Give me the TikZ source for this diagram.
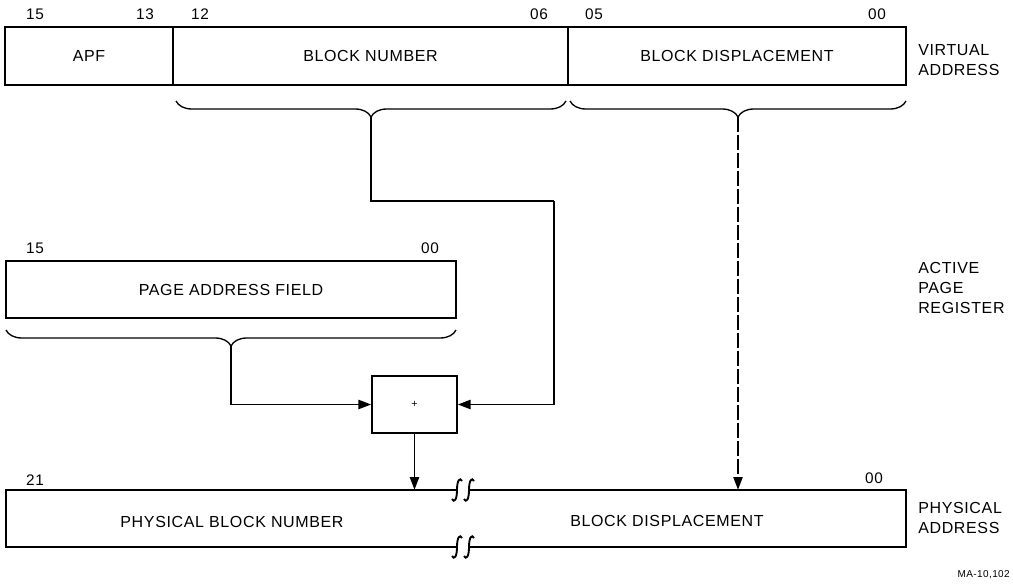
\documentclass[tikz,border=0pt]{standalone}
\usepackage{fontspec}
\setmainfont{Liberation Sans}[LetterSpace=4.0]
\usetikzlibrary{arrows.meta,decorations.pathreplacing}
\newcommand\brkmark[2]{%
  \draw[boxline] ({#1-5},{#2+9}) .. controls ({#1-3},{#2+13}) and ({#1},{#2+10}) .. (#1,#2)
     .. controls ({#1},{#2-10}) and ({#1+3},{#2-13}) .. ({#1+5},{#2-9});}
\begin{document}
\begin{tikzpicture}[x=0.75pt,y=-0.75pt,
  boxline/.style={line width=1.4pt},
  field/.style={draw, boxline, inner sep=0pt, minimum height=43.5pt,
     font=\fontsize{12pt}{14pt}\selectfont},
  txt/.style={inner sep=0pt, font=\fontsize{12pt}{14pt}\selectfont},
  side/.style={inner sep=0pt, anchor=west, align=left,
     font=\fontsize{12pt}{15pt}\selectfont},
  bitno/.style={inner sep=0pt, font=\fontsize{11.5pt}{13pt}\selectfont},
  conn/.style={line width=1pt},
  arr/.style={conn, -{Triangle[length=9.5pt,width=7pt]}},
  brc/.style={line width=1pt, decorate,
     decoration={brace, mirror, amplitude=12pt}}]
\fill[white] (0,0) rectangle (1013,584);
\useasboundingbox (0,0) rectangle (1013,584);

% ---------- virtual address ----------
\node[field, minimum width=126pt]    (apf) at (89,56)    {APF};
\node[field, minimum width=296.25pt] (bn)  at (370.5,56) {BLOCK NUMBER};
\node[field, minimum width=253.5pt]  (bd)  at (737,56)   {BLOCK DISPLACEMENT};
\node[bitno] (v15) at (35,14)  {15};
\node[bitno] (v13) at (145,14) {13};
\node[bitno] (v12) at (200,14) {12};
\node[bitno] (v06) at (539,14) {06};
\node[bitno] (v05) at (594,14) {05};
\node[bitno] (v00) at (877,14) {00};
\node[side] (va) at (918,60) {VIRTUAL\\ADDRESS};

\draw[brc] (176,101) -- (566,101);
\draw[brc] (570,101) -- (906,101);
\coordinate (tip1) at (371,117);
\coordinate (tip2) at (738,117);

% ---------- active page register ----------
\node[field, minimum width=337.5pt, minimum height=42.75pt] (apr) at (231,289.5) {PAGE ADDRESS FIELD};
\node[bitno] (a15) at (35,248)  {15};
\node[bitno] (a00) at (430,248) {00};
\node[side] (apl) at (918,288) {ACTIVE\\PAGE\\REGISTER};
\draw[brc] (6,330) -- (456,330);
\coordinate (tip3) at (231,346);

% ---------- adder ----------
\node[draw, boxline, inner sep=0pt, minimum width=63.75pt, minimum height=42.75pt,
      font=\fontsize{8pt}{9pt}\selectfont] (add) at (414.5,404.5) {+};
\coordinate (c1) at (554,201);

% ---------- physical address ----------
\node[inner sep=0pt, minimum width=675pt, minimum height=42.75pt] (phys) at (456,518.5) {};
\draw[boxline] (457,490) -- (6,490) -- (6,547) -- (457,547);
\draw[boxline] (469,490) -- (906,490) -- (906,547) -- (469,547);
\brkmark{457}{490}
\brkmark{469}{490}
\brkmark{457}{547}
\brkmark{469}{547}
\node[txt] (pbn) at (232,522) {PHYSICAL BLOCK NUMBER};
\node[txt] (pbd) at (667,521) {BLOCK DISPLACEMENT};
\node[bitno] (p21) at (35,480)  {21};
\node[bitno] (p00) at (874,478) {00};
\node[side] (pa) at (918,518) {PHYSICAL\\ADDRESS};
\node[inner sep=0pt, anchor=east, font=\fontsize{7.5pt}{9pt}\selectfont] (ma) at (1010,575) {MA-10,102};

% ---------- connectors ----------
\draw[conn] (tip1) |- (c1);
\draw[arr] (c1) |- (add.east);
\draw[arr] (tip3) |- (add.west);
\draw[arr] (add.south) -- (add.south |- phys.north);
\draw[arr, dash pattern=on 11pt off 2.5pt] (tip2) -- (tip2 |- phys.north);
\end{tikzpicture}
\end{document}
